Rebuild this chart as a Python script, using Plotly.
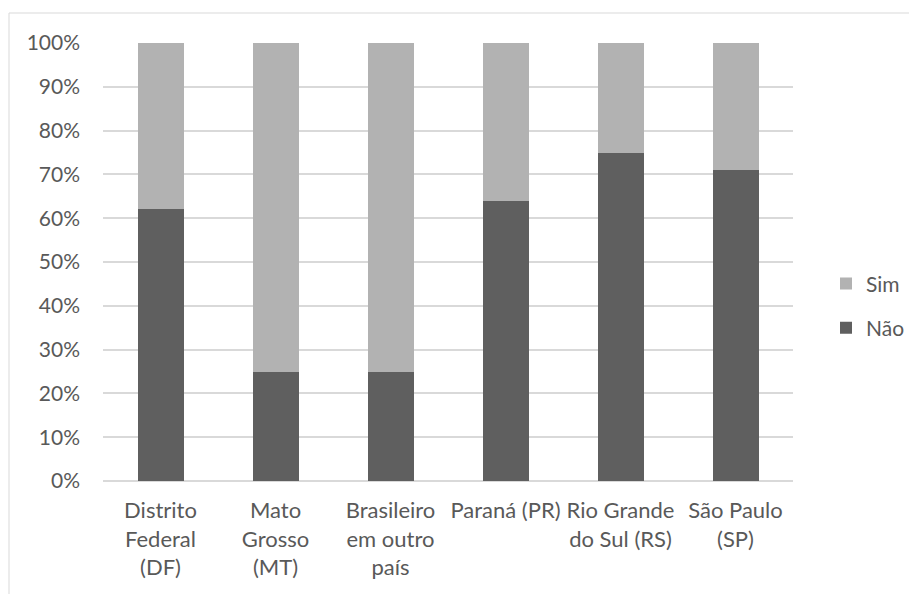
import plotly.graph_objects as go

# Respostas por região (percentual de cada categoria)
categorias = [
    "Distrito<br>Federal<br>(DF)",
    "Mato<br>Grosso<br>(MT)",
    "Brasileiro<br>em outro<br>país",
    "Paraná (PR)",
    "Rio Grande<br>do Sul (RS)",
    "São Paulo<br>(SP)",
]
nao = [62, 25, 25, 64, 75, 71]
sim = [38, 75, 75, 36, 25, 29]

y_ticks = [0, 10, 20, 30, 40, 50, 60, 70, 80, 90, 100]
y_tick_labels = [f"{v}%" for v in y_ticks]

FONT = "Lato"
TEXT = "#595959"
GRID = "#d9d9d9"

fig = go.Figure()
fig.add_trace(go.Bar(x=categorias, y=nao, name="Não", marker_color="#5f5f5f",
                     marker_line_width=0, legendgroup="nao", legendrank=2))
fig.add_trace(go.Bar(x=categorias, y=sim, name="Sim", marker_color="#b2b2b2",
                     marker_line_width=0, legendgroup="sim", legendrank=1))

W, H = 909, 594
L, R, T, B = 103, 116, 43, 113
pw, ph = W - L - R, H - T - B


def px_x(p):
    return (p - L) / pw


def px_y(p):
    return (H - B - p) / ph


fig.update_layout(
    width=W, height=H,
    barmode="stack",
    bargap=0.6,
    plot_bgcolor="white",
    paper_bgcolor="white",
    margin=dict(l=L, r=R, t=T, b=B, pad=0, autoexpand=False),
    font=dict(family=FONT, size=21, color=TEXT),
    showlegend=True,
    legend=dict(
        x=px_x(826), xanchor="left",
        y=0.4, yanchor="middle",
        traceorder="grouped",
        tracegroupgap=14,
        font=dict(family=FONT, size=21, color=TEXT),
        bgcolor="rgba(0,0,0,0)",
    ),
    xaxis=dict(
        showgrid=False, showline=False, zeroline=False,
        ticks="", ticklabelstandoff=14, automargin=False,
        tickfont=dict(family=FONT, size=22, color=TEXT),
    ),
    yaxis=dict(
        range=[0, 100],
        tickvals=y_ticks, ticktext=y_tick_labels,
        showgrid=True, gridcolor=GRID, gridwidth=1.5,
        zeroline=True, zerolinecolor=GRID, zerolinewidth=1.5,
        showline=False, ticks="", ticklabelstandoff=22, automargin=False,
        tickfont=dict(family=FONT, size=21, color=TEXT),
    ),
    shapes=[
        dict(type="rect", xref="paper", yref="paper",
             x0=px_x(9), x1=px_x(W + 20), y0=px_y(H + 20), y1=px_y(13),
             line=dict(color=GRID, width=1), layer="below"),
    ],
)

fig.write_html("out.html")
